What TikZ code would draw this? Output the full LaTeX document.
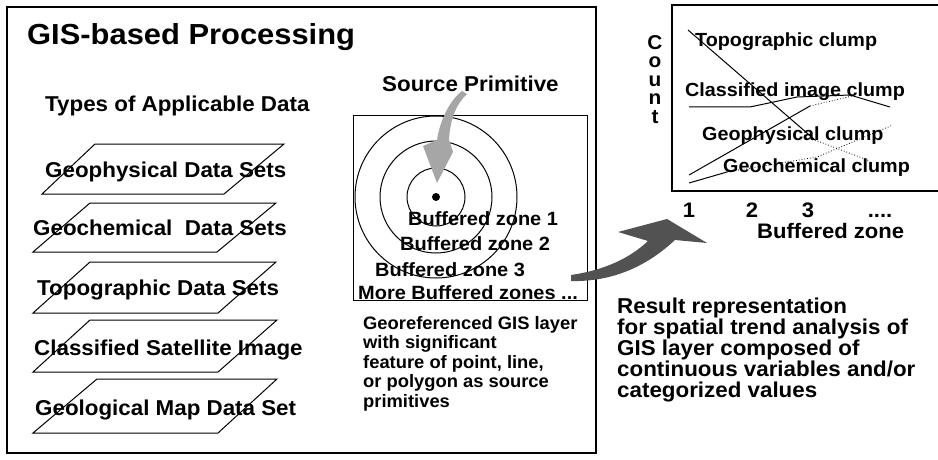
\documentclass[tikz,border=0pt]{standalone}
\usepackage{fontspec}
\setmainfont{Liberation Sans}
\begin{document}
\begin{tikzpicture}[x=1pt,y=-1pt,
  frame/.style={draw=black,line width=1.1pt},
  plate/.style={draw=black,line width=1pt},
  ttl/.style={inner sep=0pt,anchor=base west,xscale=1.065,font=\bfseries\fontsize{29}{31}\selectfont},
  big/.style={inner sep=0pt,anchor=base west,xscale=1.04,font=\bfseries\fontsize{21.5}{23}\selectfont},
  zone/.style={inner sep=0pt,anchor=base west,xscale=1.04,font=\bfseries\fontsize{19.2}{21}\selectfont},
  note/.style={inner sep=0pt,anchor=base west,xscale=1.02,font=\bfseries\fontsize{18}{20}\selectfont},
  clump/.style={inner sep=0pt,anchor=base west,xscale=1.04,font=\bfseries\fontsize{19}{21}\selectfont},
  axis/.style={inner sep=0pt,anchor=base,xscale=1.05,font=\bfseries\fontsize{21}{23}\selectfont},
  curve/.style={line width=1pt},
  dots/.style={line width=0.8pt,dotted}
]
\useasboundingbox (0,0) rectangle (938,460);

% ---------- left main frame ----------
\draw[frame] (7,7) rectangle (596,453);
\node[ttl] (title) at (27,45) {GIS-based Processing};
\node[big] (types) at (45,112) {Types of Applicable Data};

\draw[plate] (95,144) -- (284,144) -- (224,194) -- (42,194) -- cycle;
\draw[plate] (90,203) -- (276,203) -- (217,252) -- (33,252) -- cycle;
\draw[plate] (90,262) -- (276,262) -- (218,313) -- (33,313) -- cycle;
\draw[plate] (90,320) -- (277,320) -- (218,372) -- (33,372) -- cycle;
\draw[plate] (97,379) -- (277,379) -- (218,433) -- (33,433) -- cycle;

\node[big] (d1) at (45,177) {Geophysical Data Sets};
\node[big] (d2) at (33,235) {Geochemical~ Data Sets};
\node[big] (d3) at (37,295) {Topographic Data Sets};
\node[big] (d4) at (34,355) {Classified Satellite Image};
\node[big] (d5) at (35,415) {Geological Map Data Set};

% ---------- buffer panel ----------
\node[big] (src) at (382,92) {Source Primitive};
\draw[plate] (353,116) rectangle (587,300);
\coordinate (ctr) at (436,197);
\draw[curve] (ctr) circle[radius=29pt];
\draw[curve] (ctr) circle[radius=56pt];
\draw[curve] (ctr) circle[radius=81pt];
\fill[black] (ctr) circle[radius=4pt];

\fill[black!35] (462,91) .. controls (450,100) and (440,120) .. (437,140)
  -- (423,146) -- (437,183) -- (453,152) -- (449,140)
  .. controls (450,120) and (456,104) .. (467,94) -- cycle;

\node[zone] (bz1) at (408,225) {Buffered zone 1};
\node[zone] (bz2) at (400,250) {Buffered zone 2};
\node[zone] (bz3) at (375,276) {Buffered zone 3};
\node[zone] (bzm) at (358,299) {More Buffered zones ...};

\node[note] (g1) at (363,329) {Georeferenced GIS layer};
\node[note] (g2) at (363,348.5) {with significant};
\node[note] (g3) at (363,368) {feature of point, line,};
\node[note] (g4) at (363,387.5) {or polygon as source};
\node[note] (g5) at (363,407) {primitives};

% ---------- big curved arrow ----------
\fill[black!68] (571,281) .. controls (610,282) and (645,268) .. (675,240)
  -- (707,243) -- (667,219) -- (618,232) -- (648,241)
  .. controls (630,258) and (605,270) .. (571,275) -- cycle;

% ---------- chart ----------
\draw[frame] (938,5) -- (672,5) -- (672,191) -- (938,191);
\node[inner sep=0pt,anchor=north,align=center,xscale=1.04,
      font=\bfseries\fontsize{20}{18.5}\selectfont] (count) at (655,35)
      {C\\o\\u\\n\\t};

% topographic
\draw[curve] (688,30) -- (815,140);
\draw[dots] (815,140) -- (870,161);
% classified
\draw[curve] (689,107) -- (750,107) -- (797,97) -- (850,95) -- (890,107);
% geophysical
\draw[curve] (689,175) -- (810,106);
\draw[dots] (810,106) -- (852,96);
% geochemical
\draw[curve] (689,183) -- (727,172);
\draw[dots] (727,172) -- (817,157) -- (893,125);

\node[clump] (tc) at (695,46.7) {Topographic clump};
\node[clump] (cc) at (685,96.7) {Classified image clump};
\node[clump] (pc) at (702,140) {Geophysical clump};
\node[clump] (hc) at (723,172.7) {Geochemical clump};

\node[axis] (x1) at (689,217) {1};
\node[axis] (x2) at (752,217) {2};
\node[axis] (x3) at (808,217) {3};
\node[axis] (x4) at (880,217) {....};
\node[axis,anchor=base west] (xl) at (757,238) {Buffered zone};

\node[big] (r1) at (617,313) {Result representation};
\node[big] (r2) at (617,334) {for spatial trend analysis of};
\node[big] (r3) at (617,355) {GIS layer composed of};
\node[big] (r4) at (617,376) {continuous variables and/or};
\node[big] (r5) at (617,397) {categorized values};
\end{tikzpicture}
\end{document}
